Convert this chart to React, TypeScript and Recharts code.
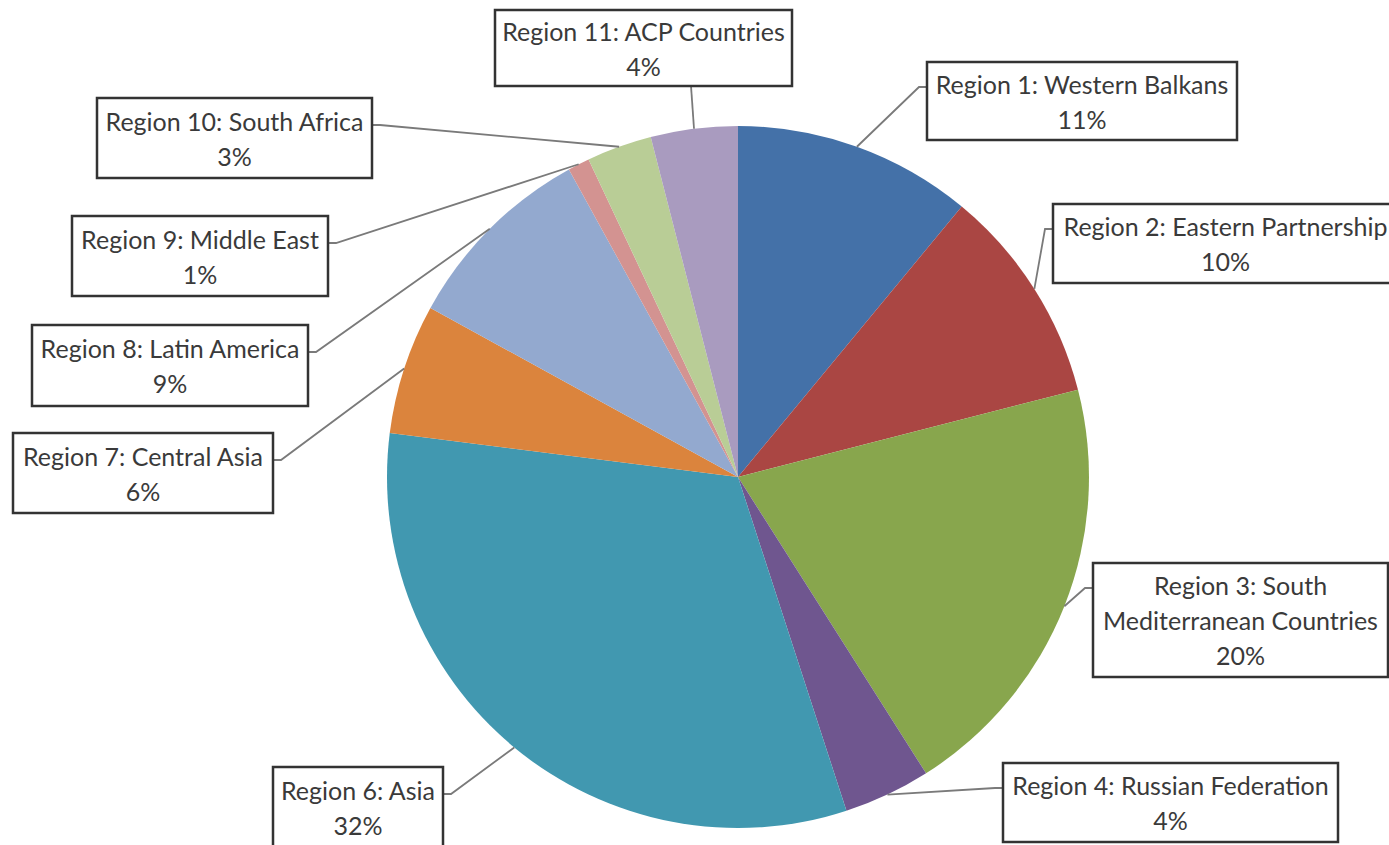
import React from "react";
import { PieChart, Pie, Cell } from "recharts";

const categories = [
  "Region 1: Western Balkans",
  "Region 2: Eastern Partnership",
  "Region 3: South Mediterranean Countries",
  "Region 4: Russian Federation",
  "Region 6: Asia",
  "Region 7: Central Asia",
  "Region 8: Latin America",
  "Region 9: Middle East",
  "Region 10: South Africa",
  "Region 11: ACP Countries",
];
const shares = [11, 10, 20, 4, 32, 6, 9, 1, 3, 4];
const colors = [
  "#4471A8",
  "#AA4643",
  "#88A64D",
  "#6F568F",
  "#4198B0",
  "#DB843D",
  "#93A9CF",
  "#D39391",
  "#B9CD96",
  "#A99BBF",
];

// label box layout: x, y, w, h, side where leader line attaches, line-break word
const labelBoxes = [
  { x: 927, y: 62, w: 310, h: 78, side: "left" },
  { x: 1053, y: 204, w: 345, h: 79, side: "left" },
  { x: 1093, y: 563, w: 295, h: 114, side: "left", breakAfter: "South" },
  { x: 1003, y: 763, w: 335, h: 79, side: "left" },
  { x: 273, y: 767, w: 170, h: 80, side: "right" },
  { x: 13, y: 433, w: 260, h: 80, side: "right" },
  { x: 32, y: 325, w: 276, h: 81, side: "right" },
  { x: 72, y: 216, w: 256, h: 80, side: "right" },
  { x: 97, y: 98, w: 275, h: 80, side: "right" },
  { x: 495, y: 10, w: 297, h: 76, side: "bottom" },
];

const data = categories.map((name, i) => ({ name, value: shares[i] }));

const RAD = Math.PI / 180;
const LINE_H = 35;

function renderLabel(props: any) {
  const { cx, cy, midAngle, outerRadius, index, percent, name } = props;
  const box = labelBoxes[index];
  if (!box) return null;
  const px = cx + outerRadius * Math.cos(-midAngle * RAD);
  const py = cy + outerRadius * Math.sin(-midAngle * RAD);
  let ax: number, ay: number, ex: number, ey: number;
  if (box.side === "left") {
    ax = box.x;
    ay = box.y + 25;
    ex = ax - 8;
    ey = ay;
  } else if (box.side === "right") {
    ax = box.x + box.w;
    ay = box.y + 27;
    ex = ax + 8;
    ey = ay;
  } else {
    ax = px - 3;
    ay = box.y + box.h;
    ex = ax;
    ey = ay;
  }
  let lines: string[];
  if (box.breakAfter) {
    const k = name.indexOf(box.breakAfter) + box.breakAfter.length;
    lines = [name.slice(0, k).trim(), name.slice(k).trim()];
  } else {
    lines = [name];
  }
  lines.push(`${Math.round(percent * 100)}%`);
  const cyBox = box.y + box.h / 2;
  const startY = cyBox - ((lines.length - 1) * LINE_H) / 2;
  return (
    <g key={`lbl-${index}`}>
      <polyline
        points={`${px},${py} ${ex},${ey} ${ax},${ay}`}
        fill="none"
        stroke="#7a7a7a"
        strokeWidth={1.8}
      />
      <rect
        x={box.x}
        y={box.y}
        width={box.w}
        height={box.h}
        fill="#ffffff"
        stroke="#333333"
        strokeWidth={2.5}
      />
      {lines.map((t, j) => (
        <text
          key={j}
          x={box.x + box.w / 2}
          y={startY + j * LINE_H}
          textAnchor="middle"
          dominantBaseline="central"
          fontFamily="Lato, 'Open Sans', sans-serif"
          fontSize={25}
          fill="#3a3a3a"
        >
          {t}
        </text>
      ))}
    </g>
  );
}

export default function App() {
  return (
    <div style={{ width: 1389, height: 845, background: "#ffffff" }}>
      <style>{`body{margin:0;background:#fff}`}</style>
      <PieChart width={1389} height={845}>
        <Pie
          data={data}
          dataKey="value"
          nameKey="name"
          cx={733}
          cy={472}
          outerRadius={351}
          startAngle={90}
          endAngle={-270}
          stroke="none"
          label={renderLabel}
          labelLine={false}
          isAnimationActive={false}
        >
          {data.map((d, i) => (
            <Cell key={d.name} fill={colors[i]} />
          ))}
        </Pie>
      </PieChart>
    </div>
  );
}
